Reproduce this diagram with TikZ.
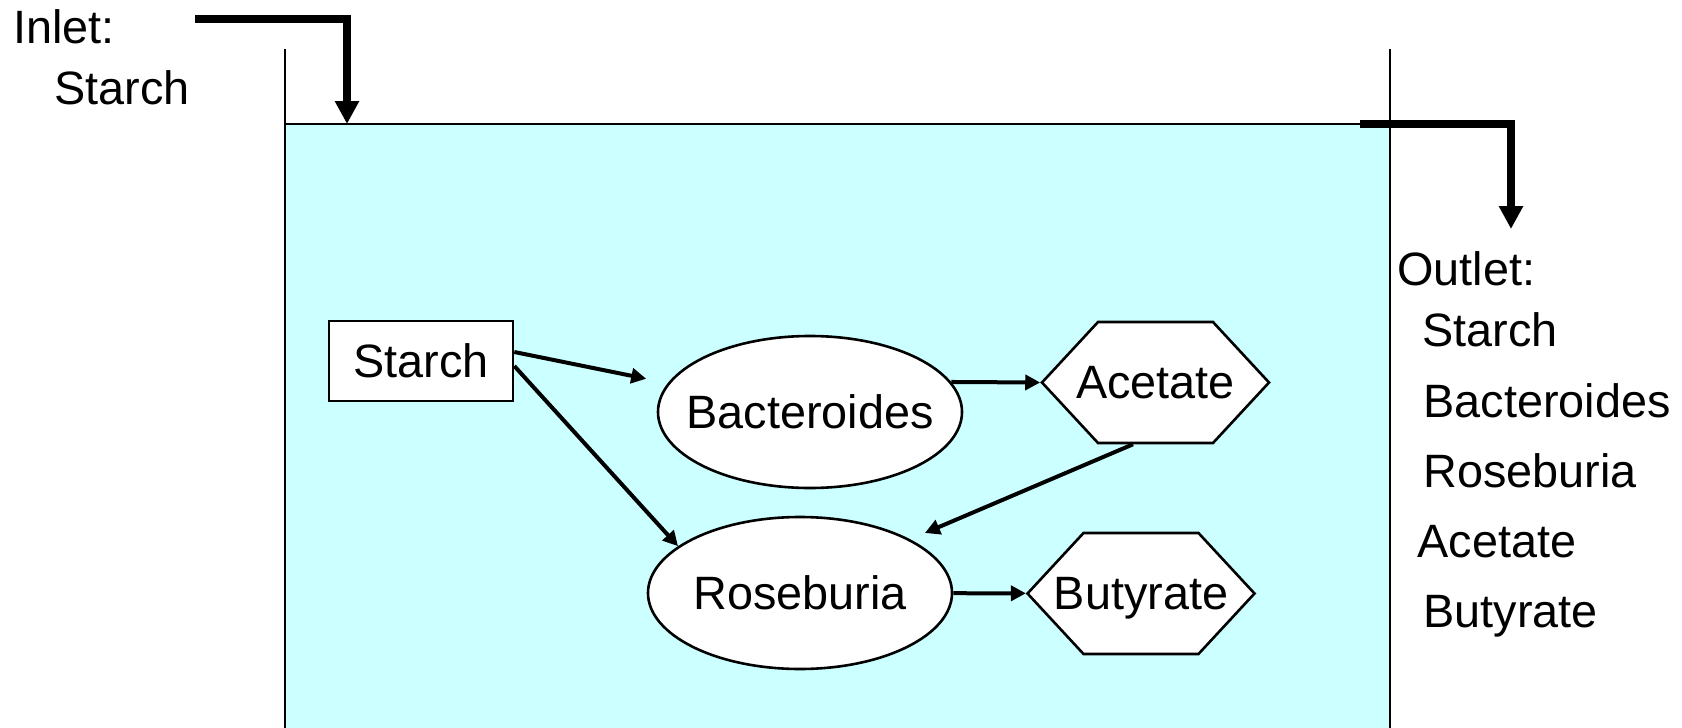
\documentclass[tikz,border=0pt]{standalone}
\usepackage{fontspec}
\setmainfont{Liberation Sans}
\usetikzlibrary{arrows.meta, positioning, shapes.geometric, shapes.symbols}

\definecolor{water}{RGB}{204,255,255}
% text that may stick out of its shape
\newcommand{\slim}[1]{\makebox[0pt]{#1}}

\begin{document}
\begin{tikzpicture}[
            x=0.5pt, y=-0.5pt,
            font=\fontsize{23.4}{28}\selectfont,
            box/.style={draw, fill=white, line width=1.3pt, inner sep=0pt,
                minimum width=92pt, minimum height=40pt, text depth=0pt},
            bug/.style={ellipse, draw, fill=white, line width=1.3pt, inner sep=0pt,
                minimum width=152pt, minimum height=76pt, text depth=0pt},
            acid/.style={signal, signal to=east and west, signal pointer angle=94.4,
                draw, fill=white, line width=1.3pt, inner sep=0pt,
                minimum width=113.5pt, minimum height=60.5pt, text depth=0pt},
            flow/.style={-{Triangle[length=7.5pt, width=7.5pt]}, line width=2pt},
            pipe/.style={-{Triangle[length=11.5pt, width=11.5pt]}, line width=4pt},
            listtext/.style={anchor=base west, inner sep=0pt}
        ]
        \useasboundingbox (0,0) rectangle (1682,728);

        % the tank
        \fill[water] (285,124) rectangle (1390,728);
        \draw[line width=0.8pt] (285,124) -- (1390,124);
        \draw[line width=1.4pt] (285,49) -- (285,728) (1390,49) -- (1390,728);

        % feed and overflow
        \coordinate (in1) at (195,19);
        \coordinate (in2) at (347,19);
        \coordinate (in3) at (347,124);
        \coordinate (out1) at (1360,124);
        \coordinate (out2) at (1511,124);
        \coordinate (out3) at (1511,229);
        \draw[pipe] (in1) -- (in2) -- (in3);
        \draw[pipe] (out1) -- (out2) -- (out3);

        \node[listtext] (inlet) at (13,43) {Inlet:};
        \node[listtext] (instarch) at ([shift={(41,61)}]inlet.base west) {Starch};

        \node[listtext] (outlet) at (1397,285) {Outlet:};
        \node[listtext] (outstarch) at ([shift={(25,61)}]outlet.base west) {Starch};
        \node[listtext] (outbact) at ([shift={(1,71)}]outstarch.base west) {Bacteroides};
        \node[listtext] (outrose) at ([yshift=-35pt]outbact.base west) {Roseburia};
        \node[listtext] (outace) at ([shift={(-6,70)}]outrose.base west) {Acetate};
        \node[listtext] (outbuty) at ([shift={(6,70)}]outace.base west) {Butyrate};

        % substrates, bugs and products
        \node[box] (starch) at (421,361) {Starch};
        \node[bug] (bact) at (810,412) {\slim{Bacteroides}};
        \node[bug] (rose) at (800,593) {\slim{Roseburia}};
        \node[acid] (ace) at (1155.5,382.5) {\slim{Acetate}};
        \node[acid] (buty) at (1141,593.5) {\slim{Butyrate}};

        \draw[flow, shorten >=11pt] ([yshift=4.5pt]starch.east) -- (bact);
        \draw[flow] ([yshift=-2.5pt]starch.east) -- (rose.159);
        \draw[flow] (bact.12) -- (ace.west);
        \draw[flow] (rose) -- (buty);
        \draw[flow, shorten >=8pt] ([xshift=-11.25pt]ace.south) -- (rose.26);

    \end{tikzpicture}
\end{document}
